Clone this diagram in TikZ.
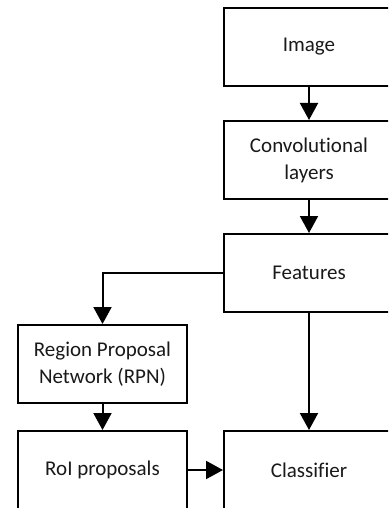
\documentclass[tikz,border=0pt]{standalone}
\usepackage{fontspec}
\setmainfont{Carlito}[Ligatures={NoCommon}]
\usetikzlibrary{arrows.meta}
\begin{document}
\begin{tikzpicture}[x=1pt,y=-1pt,
  box/.style={draw=black, line width=2pt, minimum height=78pt, align=center,
    inner sep=0pt, font=\fontsize{21}{27}\selectfont, text=black!90},
  rbox/.style={box, minimum width=170pt},
  lbox/.style={box, minimum width=169pt},
  arr/.style={line width=2pt, -{Triangle[width=18pt,length=17pt]}}]
\useasboundingbox (0,0) rectangle (388,508);
\clip (0,0) rectangle (388,508);
\node[rbox] (img) at (309,47) {Image};
\node[rbox] (conv) at (309,160) {Convolutional\\layers};
\node[rbox] (feat) at (309,273) {Features};
\node[lbox] (rpn) at (102.5,364) {Region Proposal\\Network (RPN)};
\node[lbox] (roi) at (102.5,470) {RoI proposals};
\node[rbox] (cls) at (309,470) {Classifier};
\draw[arr] (img) -- (conv);
\draw[arr] (conv) -- (feat);
\draw[arr] (feat.west) -| (rpn.north);
\draw[arr] (rpn) -- (roi);
\draw[arr] (feat) -- (cls);
\draw[arr] (roi) -- (cls);
\end{tikzpicture}
\end{document}
